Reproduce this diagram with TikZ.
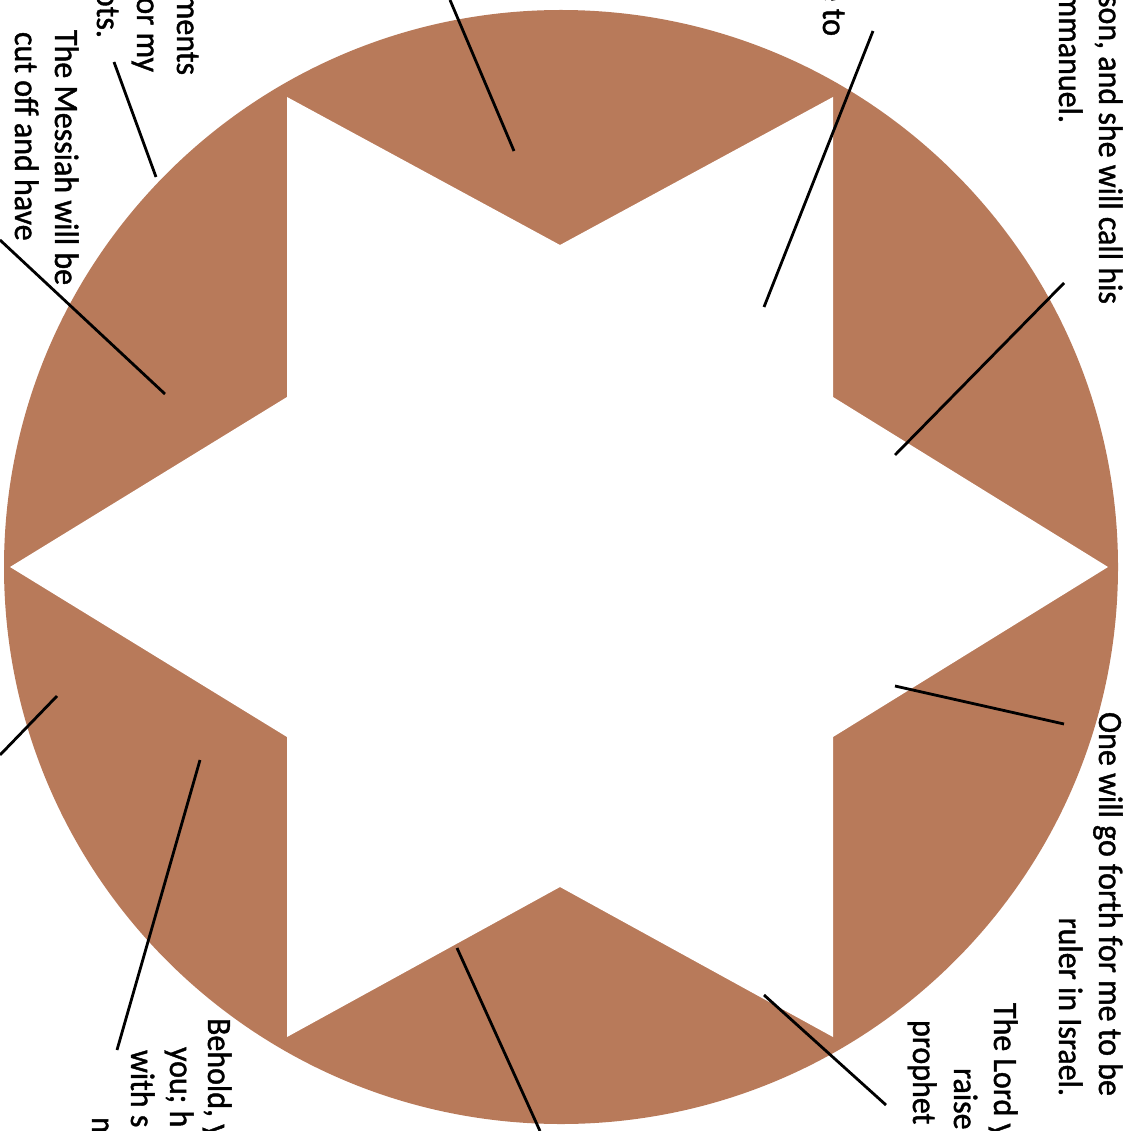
\documentclass[tikz,border=0pt]{standalone}
\usepackage{fontspec}
\setmainfont{Carlito}[FakeStretch=0.94, FakeBold=1.2]
\definecolor{starbrown}{RGB}{184,122,90}
\tikzset{
  lbl/.style={rotate=-90, inner sep=0pt, outer sep=0pt, font=\fontsize{34}{40}\selectfont},
  lead/.style={line width=2.8pt, black},
}
\begin{document}
\begin{tikzpicture}[x=1pt, y=-1pt]
\useasboundingbox (0,0) rectangle (1127,1131);
\clip (0,0) rectangle (1127,1131);
% disc and star
\fill[starbrown] (561,567) circle[radius=557];
\fill[white] (10,567) -- (287,397) -- (287,97) -- (560,245) -- (833,97) -- (833,397)
  -- (1108,567) -- (833,737) -- (833,1037) -- (560,887) -- (287,1037) -- (287,737) -- cycle;
% labels
\node[lbl, anchor=base west] (a1) at (1099,-5) {son, and she will call his};
\node[lbl, anchor=base east] (a2) at (1059,123) {mmanuel.};
\node[lbl, anchor=base west] (b1) at (1099,712) {One will go forth for me to be};
\node[lbl, anchor=base east] (b2) at (1059,1096) {ruler in Israel.};
\node[lbl, anchor=base west] (c1) at (994,1003) {The Lord y};
\node[lbl, anchor=base west] (c2) at (954,1068) {raise};
\node[lbl, anchor=base west] (c3) at (913,1020) {prophet};
\node[lbl, anchor=base west] (d1) at (208,1018) {Behold, y};
\node[lbl, anchor=base west] (d2) at (170,1047) {you; h};
\node[lbl, anchor=base west] (d3) at (131,1050) {with s};
\node[lbl, anchor=base west] (d4) at (92,1117) {m};
\node[lbl, anchor=base east] (e1) at (177,75) {ments};
\node[lbl, anchor=base east] (e2) at (137,72) {or my};
\node[lbl, anchor=base east] (e3) at (97,38) {ots.};
\node[lbl, anchor=base west] (f1) at (55,30) {The Messiah will be};
\node[lbl, anchor=base west] (f2) at (15,32) {cut off and have};
\node[lbl, anchor=base east] (g1) at (823,36) {e to};
% connector end points
\coordinate (l1a) at (450,0);    \coordinate (l1b) at (514,151);
\coordinate (l2a) at (873,31);   \coordinate (l2b) at (764,307);
\coordinate (l3a) at (1064,283); \coordinate (l3b) at (895,455);
\coordinate (l4a) at (1064,724); \coordinate (l4b) at (895,686);
\coordinate (l5a) at (886,1105); \coordinate (l5b) at (764,995);
\coordinate (l6a) at (540,1131); \coordinate (l6b) at (457,948);
\coordinate (l7a) at (117,1050); \coordinate (l7b) at (200,760);
\coordinate (l8a) at (0,755);    \coordinate (l8b) at (57,696);
\coordinate (l9a) at (0,240);    \coordinate (l9b) at (165,394);
\coordinate (l10a) at (114,62);  \coordinate (l10b) at (156,177);
\foreach \i in {1,...,10} { \draw[lead] (l\i a) -- (l\i b); }
\end{tikzpicture}
\end{document}
